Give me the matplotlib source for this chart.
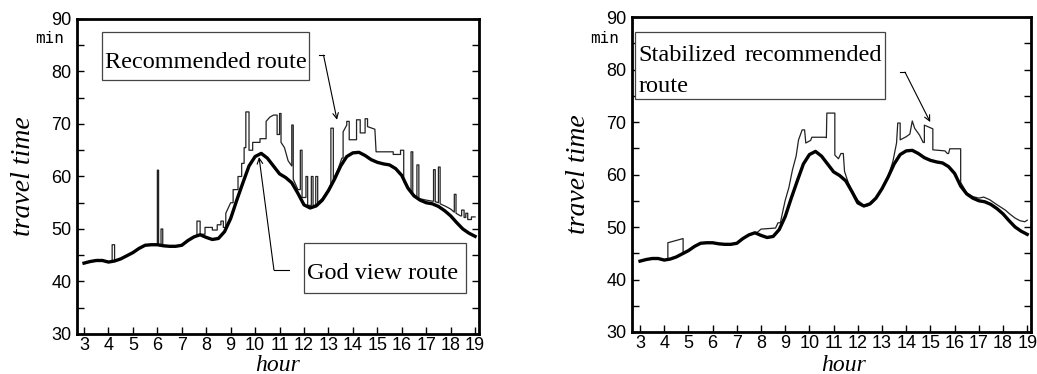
import numpy as np
import matplotlib
matplotlib.use("Agg")
import matplotlib.pyplot as plt
from matplotlib.patches import Rectangle

# god view route (same in both panels), hour vs minutes
god_hour = [3.0, 3.25, 3.5, 3.75, 4.0, 4.25, 4.5, 4.75, 5.0, 5.25, 5.5, 5.75, 6.0, 6.25, 6.5, 6.75,
            7.0, 7.25, 7.5, 7.75, 8.0, 8.25, 8.5, 8.75, 9.0, 9.25, 9.5, 9.75, 10.0, 10.25, 10.5, 10.75,
            11.0, 11.25, 11.5, 11.75, 12.0, 12.25, 12.5, 12.75, 13.0, 13.25, 13.5, 13.75, 14.0, 14.25,
            14.5, 14.75, 15.0, 15.25, 15.5, 15.75, 16.0, 16.25, 16.5, 16.75, 17.0, 17.25, 17.5, 17.75,
            18.0, 18.25, 18.5, 18.75, 19.0]
god_time = [43.5, 43.8, 44.0, 44.0, 43.7, 43.9, 44.3, 44.9, 45.5, 46.3, 46.9, 47.0, 47.0, 46.8, 46.7, 46.7,
            46.9, 47.8, 48.5, 48.9, 48.4, 48.0, 48.2, 49.5, 52.0, 55.5, 58.8, 62.0, 63.8, 64.4, 63.5, 62.0,
            60.5, 59.8, 58.8, 56.8, 54.6, 54.0, 54.4, 55.5, 57.3, 59.5, 62.0, 63.8, 64.5, 64.6,
            64.0, 63.2, 62.7, 62.4, 62.2, 61.5, 60.2, 57.8, 56.3, 55.5, 55.0, 54.8, 54.3, 53.5,
            52.5, 51.2, 50.0, 49.2, 48.6]

# recommended route (left panel)
rec_hour = [3.0, 3.25, 3.5, 3.75, 4.0, 4.15, 4.15, 4.25, 4.25, 4.5, 4.75, 5.0, 5.25, 5.5, 5.75, 6.0,
            6.0, 6.05, 6.05, 6.15, 6.15, 6.22, 6.22, 6.5, 6.75, 7.0, 7.25, 7.5, 7.62, 7.62, 7.75, 7.75,
            7.95, 7.95, 8.25, 8.25, 8.45, 8.45, 8.6, 8.6, 8.7, 8.7, 8.8, 8.8, 9.0, 9.1, 9.1, 9.3, 9.3,
            9.45, 9.45, 9.55, 9.55, 9.62, 9.62, 9.75, 9.75, 9.9, 9.9, 10.2, 10.2, 10.45, 10.45, 10.6,
            10.75, 10.9, 10.9, 11.0, 11.0, 11.06, 11.06, 11.2, 11.35, 11.5, 11.5, 11.56, 11.56, 11.75,
            11.85, 11.85, 11.92, 11.92, 12.08, 12.08, 12.15, 12.15, 12.3, 12.3, 12.37, 12.37, 12.48,
            12.48, 12.56, 12.56, 12.75, 13.0, 13.1, 13.1, 13.2, 13.2, 13.4, 13.55, 13.6, 13.6, 13.75,
            13.75, 13.85, 13.85, 14.15, 14.15, 14.3, 14.3, 14.5, 14.5, 14.6, 14.6, 14.9, 14.95, 15.65,
            15.65, 15.95, 15.95, 16.08, 16.08, 16.25, 16.38, 16.38, 16.45, 16.45, 16.62, 16.62, 16.7,
            16.7, 17.0, 17.25, 17.3, 17.3, 17.37, 17.37, 17.5, 17.5, 17.57, 17.57, 17.8, 18.0, 18.15,
            18.15, 18.22, 18.22, 18.4, 18.45, 18.45, 18.55, 18.55, 18.62, 18.62, 18.7, 18.7, 18.85,
            18.85, 19.0]
rec_time = [43.5, 43.8, 44.0, 44.0, 43.7, 43.8, 47.0, 47.0, 43.9, 44.3, 44.9, 45.5, 46.3, 46.9, 47.0, 47.0,
            61.2, 61.2, 47.0, 47.0, 50.0, 50.0, 46.8, 46.7, 46.7, 46.9, 47.8, 48.5, 48.8, 51.5, 51.5, 49.0,
            49.0, 50.3, 50.3, 49.8, 49.8, 50.8, 50.8, 51.5, 51.5, 50.3, 50.3, 53.0, 55.0, 55.0, 57.5, 57.5, 60.0,
            60.0, 62.5, 62.5, 65.5, 65.5, 72.3, 72.3, 65.0, 65.0, 66.5, 66.5, 67.2, 67.2, 70.5, 71.3,
            71.7, 71.7, 68.0, 68.0, 72.0, 72.0, 66.5, 65.5, 63.0, 62.0, 69.8, 69.8, 59.5, 57.5,
            57.5, 65.0, 65.0, 56.0, 56.0, 60.0, 60.0, 54.5, 54.5, 60.0, 60.0, 54.5, 54.5,
            60.0, 60.0, 55.0, 55.8, 57.6, 58.5, 69.2, 69.2, 59.5, 61.5, 63.5, 63.5, 68.5, 69.8,
            70.5, 70.5, 67.0, 67.0, 70.8, 70.8, 68.3, 68.3, 71.0, 71.0, 69.5, 69.0, 64.7, 64.7,
            64.2, 64.2, 65.0, 65.0, 59.0, 58.0, 57.2, 64.7, 64.7, 56.8, 56.0, 62.2, 62.2,
            55.8, 55.5, 55.3, 55.3, 61.3, 61.3, 55.2, 55.0, 61.8, 61.8, 54.8, 54.3, 53.8, 53.2,
            56.6, 56.6, 53.0, 52.5, 52.5, 53.6, 53.6, 52.2, 52.2, 53.0, 53.0, 51.8, 51.8,
            52.3, 52.3]

# stabilized recommended route (right panel)
stab_hour = [3.0, 3.25, 3.5, 3.75, 4.0, 4.15, 4.15, 4.78, 4.78, 5.0, 5.25, 5.5, 5.75, 6.0, 6.25, 6.5,
             6.75, 7.0, 7.25, 7.5, 7.75, 7.85, 8.0, 8.6, 8.7, 8.8, 8.9, 9.0, 9.15, 9.3, 9.45, 9.55, 9.7,
             9.8, 9.85, 10.05, 10.1, 10.65, 10.7, 10.72, 11.05, 11.05, 11.2, 11.3, 11.4, 11.45, 11.6,
             11.75, 12.0, 12.2, 12.4, 12.6, 12.75, 13.0, 13.25, 13.45, 13.6, 13.65, 13.75, 13.75, 14.0,
             14.15, 14.25, 14.35, 14.55, 14.7, 14.75, 14.75, 15.1, 15.1, 15.6, 15.7, 15.75, 15.8, 16.25,
             16.25, 16.5, 16.75, 17.0, 17.2, 17.45, 17.7, 17.9, 18.1, 18.3, 18.5, 18.7, 18.9, 19.0]
stab_time = [43.5, 43.8, 44.0, 44.0, 43.7, 43.8, 47.0, 47.8, 44.9, 45.5, 46.3, 46.9, 47.0, 47.0, 46.8, 46.7,
             46.7, 46.9, 47.8, 48.5, 48.9, 49.0, 49.6, 49.8, 50.8, 50.8, 53.0, 55.1, 57.5, 60.9, 63.5, 66.6, 68.5,
             68.5, 66.0, 66.5, 67.1, 67.1, 67.0, 71.7, 71.7, 63.7, 63.0, 64.0, 64.0, 60.6, 58.5,
             57.0, 55.1, 54.3, 54.0, 54.6, 55.5, 57.3, 59.6, 62.5, 66.0, 69.8, 69.8, 66.6, 67.2,
             67.7, 70.2, 68.8, 67.5, 66.1, 66.1, 69.4, 68.7, 64.7, 64.5, 64.0, 64.0, 64.9, 64.9,
             58.5, 56.5, 55.8, 55.5, 55.7, 55.2, 54.4, 53.8, 53.2, 52.4, 51.7, 51.2, 51.0, 51.3]

hour_ticks = list(range(3, 20))
time_ticks = [30, 40, 50, 60, 70, 80, 90]

tick_font = ['Liberation Sans', 'DejaVu Sans']
serif_font = ['Liberation Serif', 'DejaVu Serif']

fig = plt.figure(figsize=(10.37, 3.74), dpi=100)
ax1 = fig.add_axes([0.0743, 0.1070, 0.3876, 0.8422])
ax2 = fig.add_axes([0.6095, 0.1123, 0.3848, 0.8422])


def style(ax, xlim):
    ax.set_xlim(*xlim)
    ax.set_ylim(30, 90)
    ax.set_xticks(hour_ticks)
    ax.set_xticklabels([str(h) for h in hour_ticks], fontfamily=tick_font, fontsize=13)
    ax.set_yticks(time_ticks)
    ax.set_yticklabels([str(t) for t in time_ticks], fontfamily=tick_font, fontsize=13)
    ax.set_yticks(np.arange(35, 90, 10), minor=True)
    ax.tick_params(axis='x', direction='in', length=5, width=1, pad=2, top=False)
    ax.tick_params(axis='y', which='both', direction='in', length=5, width=1, pad=4, right=True)
    for s in ax.spines.values():
        s.set_linewidth(2)
    ax.set_ylabel('travel time', fontfamily=serif_font, fontstyle='italic', fontsize=20, labelpad=11)


style(ax1, (2.714, 19.16))
style(ax2, (2.67, 19.16))

ax1.plot(rec_hour, rec_time, color='#222222', lw=0.9)
ax1.plot(god_hour, god_time, color='black', lw=2.4)
ax2.plot(stab_hour, stab_time, color='#222222', lw=0.9)
ax2.plot(god_hour, god_time, color='black', lw=2.4)

box_kw = dict(fc='white', ec='#444444', lw=0.9, zorder=4)
txt_kw = dict(fontfamily=serif_font, fontsize=17.5, zorder=5)
arrow_kw = dict(arrowstyle='->', color='black', lw=0.8, shrinkA=0, shrinkB=0)

# left panel labels
ax1.add_patch(Rectangle((3.74, 78.4), 12.2 - 3.74, 87.5 - 78.4, **box_kw))
ax1.text(3.86, 80.7, 'Recommended route', va='baseline', ha='left', **txt_kw)
ax1.annotate('', xy=(13.35, 70.8), xytext=(12.8, 83.1), arrowprops=arrow_kw)
ax1.plot([12.6, 12.8], [83.1, 83.1], color='black', lw=0.8)

ax1.add_patch(Rectangle((12.0, 37.8), 18.63 - 12.0, 47.3 - 37.8, **box_kw))
ax1.text(12.12, 40.5, 'God view route', va='baseline', ha='left', **txt_kw)
ax1.annotate('', xy=(10.16, 63.7), xytext=(10.77, 42.2), arrowprops=arrow_kw)
ax1.plot([10.77, 11.39], [42.2, 42.2], color='black', lw=0.8)

# right panel labels
ax2.add_patch(Rectangle((2.79, 74.4), 13.13 - 2.79, 87.1 - 74.4, **box_kw))
ax2.text(2.92, 81.6, 'Stabilized', va='baseline', ha='left', **txt_kw)
ax2.text(13.0, 81.6, 'recommended', va='baseline', ha='right', **txt_kw)
ax2.text(2.92, 75.8, 'route', va='baseline', ha='left', **txt_kw)
ax2.annotate('', xy=(14.99, 70.0), xytext=(13.95, 79.5), arrowprops=arrow_kw)
ax2.plot([13.75, 13.95], [79.5, 79.5], color='black', lw=0.8)

# x labels and unit labels
hour_kw = dict(fontfamily=serif_font, fontstyle='italic', fontsize=17, ha='center', va='baseline')
fig.text(0.268, 0.008, 'hour', **hour_kw)
fig.text(0.813, 0.008, 'hour', **hour_kw)
fig.text(0.034, 0.898, 'min', fontfamily=['DejaVu Sans Mono'], fontsize=11.5, va='center', ha='left')
fig.text(0.569, 0.898, 'min', fontfamily=['DejaVu Sans Mono'], fontsize=11.5, va='center', ha='left')

fig.savefig('out.png', dpi=100)
